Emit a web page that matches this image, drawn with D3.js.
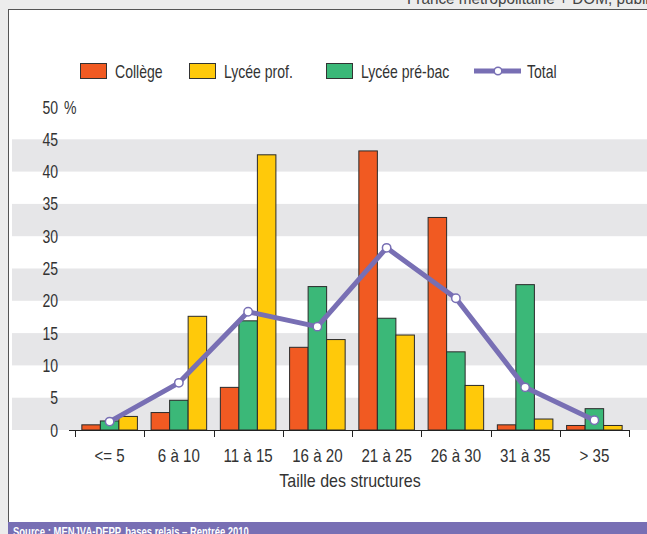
<!DOCTYPE html>
<html><head><meta charset="utf-8">
<script src="https://cdn.jsdelivr.net/npm/d3@7"></script>
<style>
html,body{margin:0;padding:0;background:#ececec;}
svg{display:block;}
text{font-family:"Liberation Sans",Arial,sans-serif;fill:#333;}
</style></head>
<body>
<svg id="c" width="647" height="534"></svg>
<script>
const categories = ["<= 5","6 à 10","11 à 15","16 à 20","21 à 25","26 à 30","31 à 35","> 35"];
const college   = [0.8, 2.7, 6.6, 12.8, 43.2, 32.9, 0.8, 0.7];
const lyceePreBac = [1.4, 4.6, 16.9, 22.2, 17.3, 12.1, 22.5, 3.3];
const lyceeProf = [2.1, 17.6, 42.6, 14.0, 14.7, 6.9, 1.7, 0.7];
const total     = [1.3, 7.3, 18.3, 16.0, 28.2, 20.4, 6.6, 1.5];
const yTicks = [0,5,10,15,20,25,30,35,40,45,50];
const seriesNames = ["Collège","Lycée pré-bac","Lycée prof."];
const legendNames = ["Collège","Lycée prof.","Lycée pré-bac","Total"];

const colors = {"Collège":"#f15a22","Lycée prof.":"#ffc90a","Lycée pré-bac":"#3bb878","Total":"#786fb4"};
const seriesData = {"Collège":college,"Lycée pré-bac":lyceePreBac,"Lycée prof.":lyceeProf};

const SX = 0.78;
function txt(parent, x, y, s, opts={}){
  const t = parent.append("text")
    .attr("transform", `translate(${x},${y}) scale(${opts.sx||SX},1)`)
    .attr("font-size", opts.size||18)
    .attr("text-anchor", opts.anchor||"start")
    .text(s);
  if(opts.weight) t.attr("font-weight",opts.weight);
  if(opts.fill) t.style("fill",opts.fill);
  return t;
}

const svg = d3.select("#c");
// panel
svg.append("rect").attr("x",8.5).attr("y",9.5).attr("width",650).attr("height",530)
  .attr("fill","#fff").attr("stroke","#555").attr("stroke-width",1);
// top note (clipped)
txt(svg,407,4,"France métropolitaine + DOM, public",{size:17,fill:"#444",sx:0.9});

const y = d3.scaleLinear().domain([0,50]).range([430,107]);
const x = d3.scaleBand().domain(categories).range([75,629]).paddingInner(0).paddingOuter(0);
const xs = d3.scaleBand().domain(seriesNames).range([0,x.bandwidth()]).paddingInner(0).paddingOuter(0.37);

// bands
const bandStarts = [0,10,20,30,40];
svg.append("g").selectAll("rect").data(bandStarts).join("rect")
  .attr("x",12).attr("width",640).attr("y",d=>y(d+5)).attr("height",d=>y(d)-y(d+5))
  .attr("fill","#e6e6e8");

// y labels
const yl = svg.append("g");
yTicks.forEach(d=>txt(yl,58,y(d)+6.5,String(d),{anchor:"end"}));
txt(svg,64,y(50)+6.5,"%");

// bars
const g = svg.append("g");
categories.forEach((c,i)=>{
  seriesNames.forEach(s=>{
    const v = seriesData[s][i];
    g.append("rect").attr("x",x(c)+xs(s)).attr("width",xs.bandwidth())
      .attr("y",y(v)).attr("height",y(0)-y(v))
      .attr("fill",colors[s]).attr("stroke","#2a2a2a").attr("stroke-width",1);
  });
});

// x axis
const ax = svg.append("g");
ax.append("line").attr("x1",69).attr("x2",630).attr("y1",430.5).attr("y2",430.5).attr("stroke","#222").attr("stroke-width",1.2);
const bounds = categories.map(c=>x(c)).concat([x(categories[categories.length-1])+x.bandwidth()]);
ax.selectAll("line.t").data(bounds).join("line").attr("class","t")
  .attr("x1",d=>Math.round(d)+0.5).attr("x2",d=>Math.round(d)+0.5).attr("y1",430).attr("y2",437)
  .attr("stroke","#222").attr("stroke-width",1);
categories.forEach(c=>txt(ax,x(c)+x.bandwidth()/2,462,c,{anchor:"middle",sx:0.84}));
txt(svg,350,487,"Taille des structures",{anchor:"middle",sx:0.89});

// total line
const line = d3.line().x((d,i)=>x(categories[i])+x.bandwidth()/2).y(d=>y(d));
svg.append("path").datum(total).attr("d",line).attr("fill","none")
  .attr("stroke",colors["Total"]).attr("stroke-width",5).attr("stroke-linejoin","round");
svg.append("g").selectAll("circle").data(total).join("circle")
  .attr("cx",(d,i)=>x(categories[i])+x.bandwidth()/2).attr("cy",d=>y(d)).attr("r",4.2)
  .attr("fill","#fff").attr("stroke",colors["Total"]).attr("stroke-width",1.5);

// legend
const legX = [80,189,326,474];
legendNames.forEach((n,i)=>{
  const lx = legX[i];
  if(n==="Total"){
    svg.append("line").attr("x1",lx).attr("x2",lx+47).attr("y1",71).attr("y2",71)
      .attr("stroke",colors[n]).attr("stroke-width",5);
    svg.append("circle").attr("cx",lx+24).attr("cy",71).attr("r",3.8).attr("fill","#fff")
      .attr("stroke",colors[n]).attr("stroke-width",1.5);
    txt(svg,lx+53,77.5,n);
  } else {
    svg.append("rect").attr("x",lx+0.5).attr("y",63.5).attr("width",26).attr("height",15)
      .attr("fill",colors[n]).attr("stroke","#333").attr("stroke-width",1);
    txt(svg,lx+35,77.5,n);
  }
});

// source band
svg.append("rect").attr("x",8).attr("y",522).attr("width",640).attr("height",12).attr("fill","#786fb4");
txt(svg,13,536,"Source : MENJVA-DEPP, bases relais – Rentrée 2010",{size:12,weight:"bold",fill:"#fff",sx:0.79});
</script>
</body></html>
